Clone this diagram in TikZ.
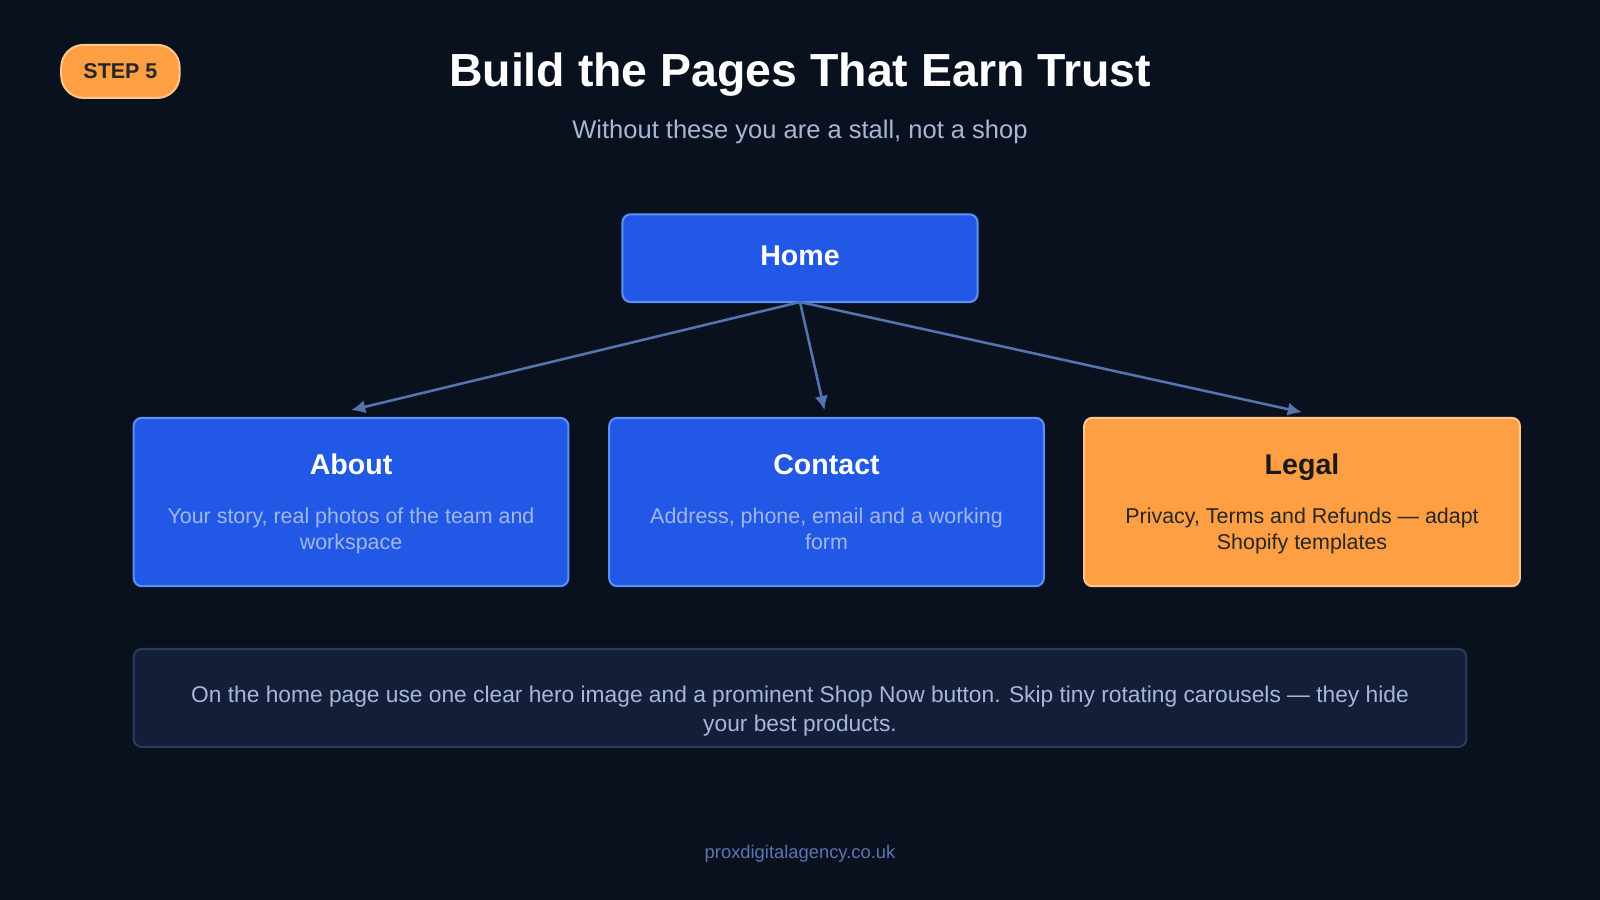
\documentclass[tikz,border=0pt]{standalone}
\usepackage{fontspec}
\setmainfont{Liberation Sans}
\usetikzlibrary{arrows.meta}
\definecolor{bgdark}{HTML}{0A111E}
\definecolor{pageblue}{HTML}{2258E6}
\definecolor{pageedge}{HTML}{5E8FF2}
\definecolor{legalorange}{HTML}{FF9F43}
\definecolor{legaledge}{HTML}{FFC58A}
\definecolor{notefill}{HTML}{131F38}
\definecolor{noteedge}{HTML}{2A3B5E}
\definecolor{linkblue}{HTML}{5374AE}
\definecolor{softtext}{HTML}{A9B7D6}
\definecolor{bluetext}{HTML}{A3B7E6}
\definecolor{foottext}{HTML}{5C74B3}
\tikzset{
  page/.style={draw=pageedge, line width=2pt, fill=pageblue, rounded corners=8pt},
  legal/.style={draw=legaledge, line width=2pt, fill=legalorange, rounded corners=8pt},
  link/.style={draw=linkblue, line width=2.5pt, -{Latex[length=14pt,width=13pt]}},
  head/.style={font=\fontsize{28}{32}\selectfont\bfseries, text height=20pt, text depth=6pt},
  blurb/.style={font=\fontsize{21}{26}\selectfont, align=center, anchor=north},
}
\begin{document}
\begin{tikzpicture}[x=1pt,y=1pt,yscale=-1]
\useasboundingbox[fill=bgdark] (0,0) rectangle (1568,882);

% Step badge
\node (step) [draw=legaledge, line width=2pt, fill=legalorange, rounded corners=22pt, minimum width=116pt, minimum height=52pt, font=\fontsize{21}{24}\selectfont\bfseries, text=black!85] at (118,70) {STEP 5};
% Title
\node (title) [text=white, font=\fontsize{45.5}{50}\selectfont\bfseries] at (784,73) {Build the Pages That Earn Trust};
\node (subtitle) [text=softtext, font=\fontsize{25}{28}\selectfont] at (784,129) {Without these you are a stall, not a shop};

% Home
\node (home) [page, minimum width=348pt, minimum height=86pt] at (784,253) {};
\node (hometext) [head, text=white] at (784,253) {Home};

% About
\node (about) [page, minimum width=426pt, minimum height=165pt] at (344,492) {};
\node (abouthead) [head, text=white] at (344,458) {About};
\node (aboutblurb) [blurb, text=bluetext] at (344,494) {Your story, real photos of the team and\\workspace};

% Contact
\node (contact) [page, minimum width=426pt, minimum height=165pt] at (810,492) {};
\node (contacthead) [head, text=white] at (810,458) {Contact};
\node (contactblurb) [blurb, text=bluetext] at (810,494) {Address, phone, email and a working\\form};

% Legal
\node (legalbox) [legal, minimum width=427pt, minimum height=165pt] at (1276,492) {};
\node (legalhead) [head, text=black!90] at (1276,458) {Legal};
\node (legalblurb) [blurb, text=black!85] at (1276,494) {Privacy, Terms and Refunds — adapt\\Shopify templates};

% Arrows
\coordinate (fork) at (784,296);
\coordinate (toabout) at (344,402);
\coordinate (tocontact) at (808,402);
\coordinate (tolegal) at (1276,404);
\draw [link] (fork) -- (toabout);
\draw [link] (fork) -- (tocontact);
\draw [link] (fork) -- (tolegal);

% Note
\node (note) [draw=noteedge, line width=2pt, fill=notefill, rounded corners=8pt, minimum width=1306pt, minimum height=96pt] at (784,684) {};
\node (notetext) [text=softtext, font=\fontsize{22.3}{28}\selectfont, align=center] at (784,697) {On the home page use one clear hero image and a prominent Shop Now button. Skip tiny rotating carousels — they hide\\your best products.};

% Footer
\node (footer) [text=foottext, font=\fontsize{18}{22}\selectfont] at (784,837) {proxdigitalagency.co.uk};
\end{tikzpicture}
\end{document}
